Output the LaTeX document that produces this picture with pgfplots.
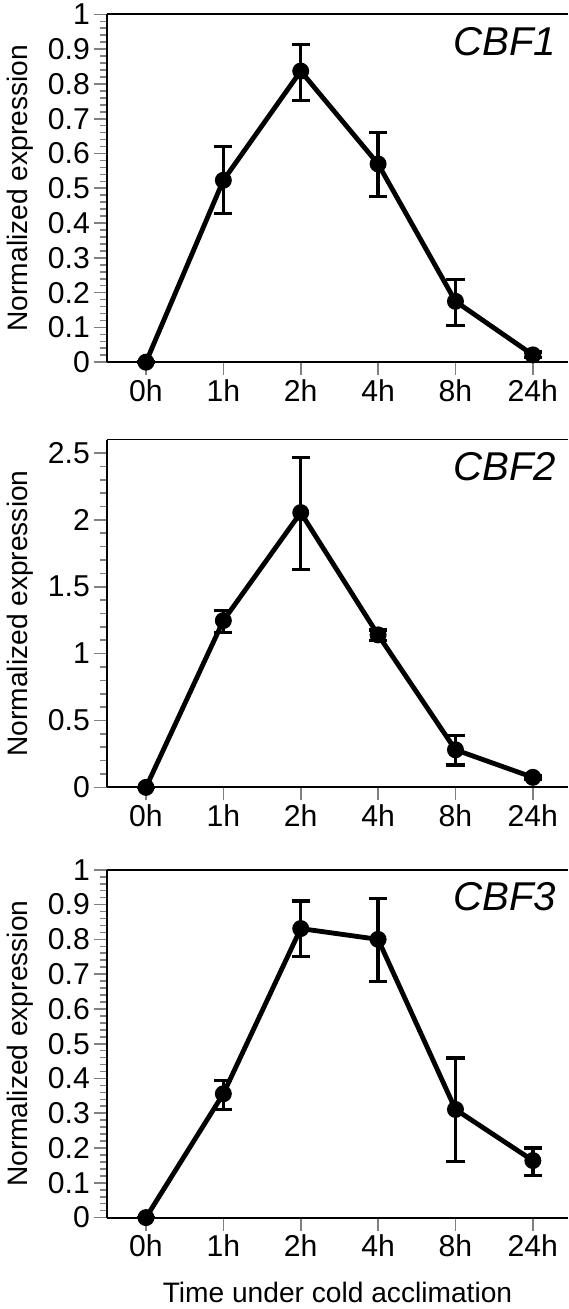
\documentclass[border=0pt]{standalone}
\usepackage{fontspec}
\setmainfont{Liberation Sans}
\usepackage{pgfplots}
\pgfplotsset{compat=1.18}

\pgfplotsset{
  cbf/.style={
    width=229pt, height=173pt, scale only axis,
    xmin=-0.5, xmax=5.45, ymin=0,
    axis x line*=box, axis y line*=left,
    axis line style={-, line width=0.9pt},
    xtick={0,1,2,3,4,5}, xticklabels={0h,1h,2h,4h,8h,24h},
    tick align=outside, xtick pos=left, ytick pos=left,
    major tick length=6.5pt, minor tick length=3.5pt,
    minor y tick num=4,
    every tick/.style={gray, line width=0.8pt},
    tick label style={font=\fontsize{15}{17}\selectfont},
    xticklabel style={inner sep=2pt},
    yticklabel style={inner sep=2pt, /pgf/number format/fixed},
    /pgf/number format/assume math mode=true,
    ylabel={Normalized expression},
    ylabel style={at={(axis description cs:-0.19,0.5)}, anchor=center,
                  font=\fontsize{14}{16}\selectfont},
    clip=false,
  },
  cbfline/.style={
    black, line width=2.4pt, mark=*, mark size=3pt,
    error bars/.cd, y dir=both, y explicit,
    error bar style={line width=1.7pt, black},
    error mark options={rotate=90, mark size=4.5pt, line width=1.7pt, black},
  },
}
\tikzset{
  gene/.style={anchor=east, inner sep=0pt, xshift=-5.5pt, yshift=-13.5pt,
               font=\fontsize{20}{24}\selectfont\itshape},
}

\begin{document}
\begin{tikzpicture}
% CBF1
\begin{axis}[cbf, ymax=1,
  ytick={0,0.1,0.2,0.3,0.4,0.5,0.6,0.7,0.8,0.9,1}]
\addplot[cbfline] coordinates {
  (0,0) +- (0,0)
  (1,0.523) += (0,0.097) -= (0,0.096)
  (2,0.837) += (0,0.077) -= (0,0.084)
  (3,0.570) += (0,0.091) -= (0,0.093)
  (4,0.175) += (0,0.062) -= (0,0.070)
  (5,0.021) += (0,0.008) -= (0,0.008)
};
\node[gene] at (rel axis cs:1,1) {CBF1};
\end{axis}

% CBF2
\begin{axis}[cbf, at={(0pt,-211.5pt)}, ymax=2.6,
  ytick={0,0.5,1,1.5,2,2.5}]
\addplot[cbfline] coordinates {
  (0,0) +- (0,0)
  (1,1.247) += (0,0.076) -= (0,0.090)
  (2,2.054) += (0,0.413) -= (0,0.426)
  (3,1.140) += (0,0.037) -= (0,0.043)
  (4,0.281) += (0,0.107) -= (0,0.113)
  (5,0.075) += (0,0.012) -= (0,0.012)
};
\node[gene] at (rel axis cs:1,1) {CBF2};
\end{axis}

% CBF3
\begin{axis}[cbf, at={(0pt,-425.5pt)}, ymax=1,
  ytick={0,0.1,0.2,0.3,0.4,0.5,0.6,0.7,0.8,0.9,1},
  xlabel={Time under cold acclimation},
  xlabel style={at={(axis description cs:0.5,0)}, anchor=center, yshift=-37pt,
                font=\fontsize{14}{16}\selectfont}]
\addplot[cbfline] coordinates {
  (0,0) +- (0,0)
  (1,0.356) += (0,0.039) -= (0,0.045)
  (2,0.831) += (0,0.079) -= (0,0.080)
  (3,0.800) += (0,0.117) -= (0,0.121)
  (4,0.311) += (0,0.148) -= (0,0.149)
  (5,0.164) += (0,0.036) -= (0,0.043)
};
\node[gene] at (rel axis cs:1,1) {CBF3};
\end{axis}
\end{tikzpicture}
\end{document}
